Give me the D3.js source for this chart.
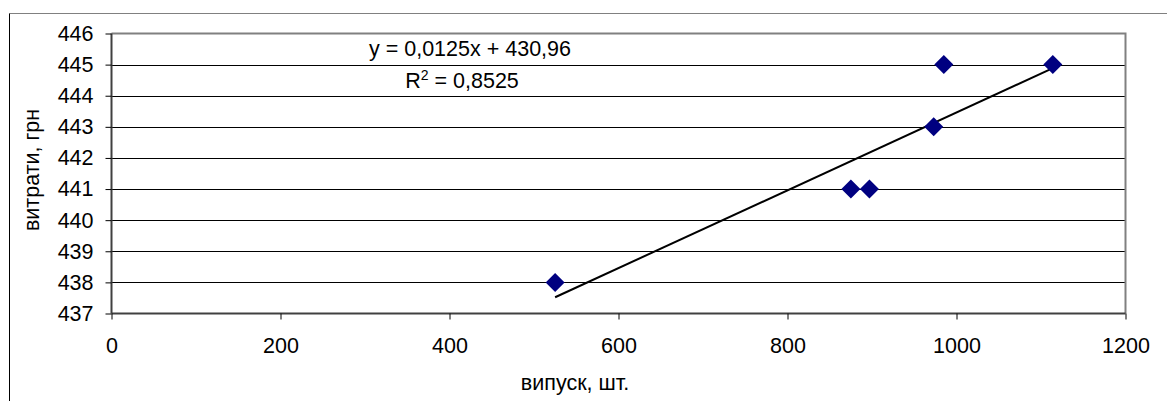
<!DOCTYPE html>
<html>
<head>
<meta charset="utf-8">
<script src="https://cdn.jsdelivr.net/npm/d3@7"></script>
<style>
  body { margin: 0; background: #fff; }
  text { font-family: "Liberation Sans", Arial, sans-serif; fill: #000; }
</style>
</head>
<body>
<script>
// випуск (шт.) та витрати (грн)
var output = [525, 875, 897, 973, 985, 1114];
var costs = [438, 441, 441, 443, 445, 445];
var xTicks = [0, 200, 400, 600, 800, 1000, 1200];
var yTicks = [437, 438, 439, 440, 441, 442, 443, 444, 445, 446];
var trendSlope = 0.0125, trendIntercept = 430.96;
var trendLabel = "y = 0,0125x + 430,96";
var r2Label = "0,8525";

var W = 1167, H = 401;
var mLeft = 111.5, mRight = 1125.5, mTop = 33.5, mBottom = 313.5;
var fs = "21.5px";

var svg = d3.select("body").append("svg")
    .attr("width", W)
    .attr("height", H);

// chart area border (clipped at right/bottom)
svg.append("line")
    .attr("x1", 9.5).attr("x2", W)
    .attr("y1", 13.5).attr("y2", 13.5)
    .attr("stroke", "#808080");
svg.append("line")
    .attr("x1", 9.5).attr("x2", 9.5)
    .attr("y1", 13.5).attr("y2", H)
    .attr("stroke", "#000");

var x = d3.scaleLinear().domain([0, 1200]).range([mLeft, mRight]);
var y = d3.scaleLinear().domain([437, 446]).range([mBottom, mTop]);

// gridlines
svg.append("g").selectAll("line")
    .data(yTicks.slice(1, -1))
    .join("line")
    .attr("x1", mLeft).attr("x2", mRight)
    .attr("y1", function(d){ return Math.round(y(d)) + 0.5; })
    .attr("y2", function(d){ return Math.round(y(d)) + 0.5; })
    .attr("stroke", "#000")
    .attr("stroke-width", 1);

// plot area border top/right
svg.append("path")
    .attr("d", "M" + mLeft + "," + mTop + "H" + mRight + "V" + mBottom)
    .attr("fill", "none")
    .attr("stroke", "#808080")
    .attr("stroke-width", 2);

// axes
var yAxis = d3.axisLeft(y).tickValues(yTicks).tickSize(6).tickPadding(12);
var gy = svg.append("g")
    .attr("transform", "translate(" + mLeft + ",0)")
    .call(yAxis);
var xAxis = d3.axisBottom(x).tickValues(xTicks).tickFormat(d3.format("d"))
    .tickSize(6).tickPadding(18);
var gx = svg.append("g")
    .attr("transform", "translate(0," + mBottom + ")")
    .call(xAxis);

[gx, gy].forEach(function(g){
    g.select(".domain").attr("stroke", "#404040").attr("stroke-width", 2);
    g.selectAll(".tick line").attr("stroke", "#000");
    g.selectAll(".tick text")
        .style("font-family", "Liberation Sans, Arial, sans-serif")
        .style("font-size", fs)
        .attr("fill", "#000");
});
gx.select(".domain").attr("d", "M" + mLeft + ",0H" + mRight);
gy.select(".domain").attr("d", "M0," + mTop + "V" + mBottom);

// trend line
var trendX = [d3.min(output), d3.max(output)];
svg.append("line")
    .attr("x1", x(trendX[0]))
    .attr("y1", y(trendSlope * trendX[0] + trendIntercept))
    .attr("x2", x(trendX[1]))
    .attr("y2", y(trendSlope * trendX[1] + trendIntercept))
    .attr("stroke", "#000")
    .attr("stroke-width", 2);

// points
svg.append("g").selectAll("path")
    .data(output)
    .join("path")
    .attr("d", function(d, i){
        var cx = x(d), cy = y(costs[i]), r = 9.5;
        return "M" + cx + "," + (cy - r) + "L" + (cx + r) + "," + cy +
            "L" + cx + "," + (cy + r) + "L" + (cx - r) + "," + cy + "Z";
    })
    .attr("fill", "#000080");

// equation labels
svg.append("text")
    .attr("x", 470).attr("y", 56)
    .attr("text-anchor", "middle")
    .style("font-size", fs)
    .text(trendLabel);
var r2 = svg.append("text")
    .attr("x", 462).attr("y", 88)
    .attr("text-anchor", "middle")
    .style("font-size", fs);
r2.append("tspan").text("R");
r2.append("tspan").attr("dy", -8).style("font-size", "14px").text("2");
r2.append("tspan").attr("dy", 8).text(" = " + r2Label);

// axis titles
svg.append("text")
    .attr("transform", "translate(39,170) rotate(-90)")
    .attr("text-anchor", "middle")
    .style("font-size", fs)
    .text("витрати, грн");
svg.append("text")
    .attr("x", 575).attr("y", 390)
    .attr("text-anchor", "middle")
    .style("font-size", fs)
    .text("випуск, шт.");
</script>
</body>
</html>
